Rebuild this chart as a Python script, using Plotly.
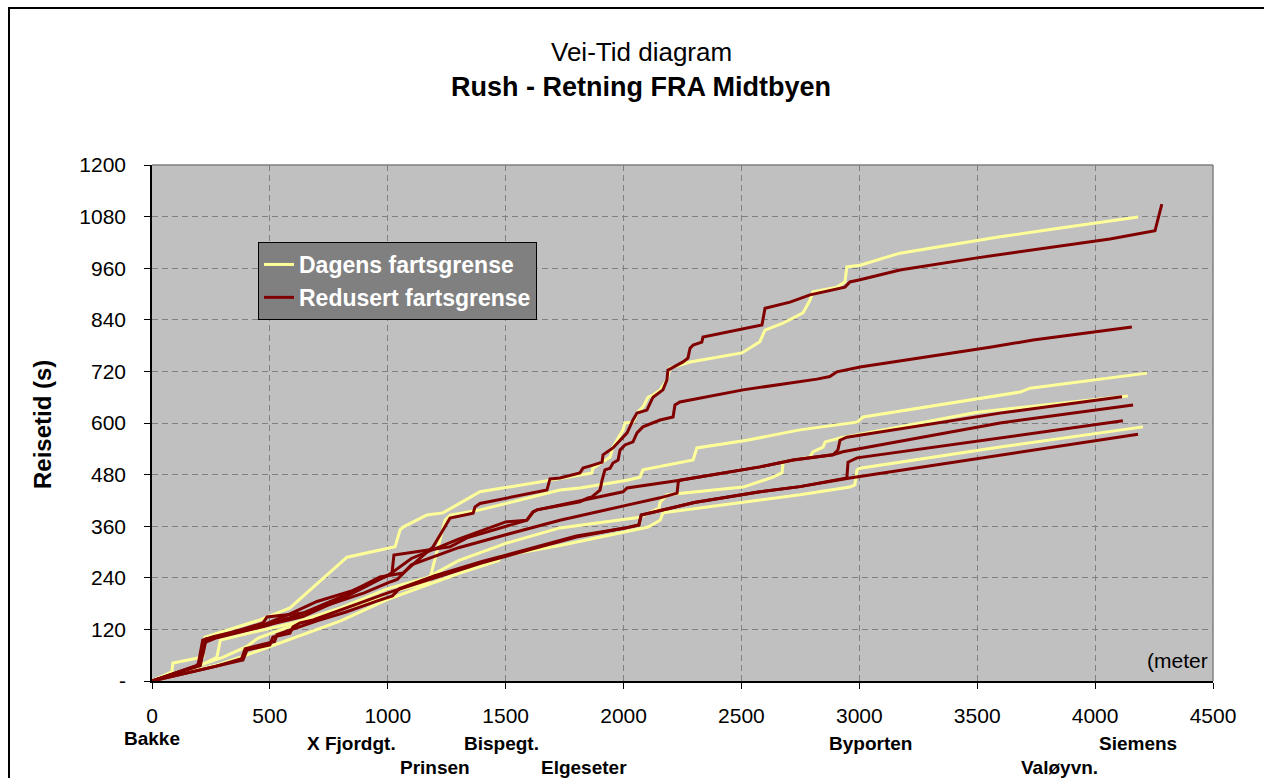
import plotly.graph_objects as go

# ---------------- data (distance in metres, travel time in seconds) ----------------
# Dagens fartsgrense (current speed limit) trips
d1_x = [0, 84, 89, 216, 225, 276, 458, 585, 827, 1031, 1052, 1065, 1166, 1234, 1370, 1391, 1688, 1815, 1866, 1870,
        1943, 1955, 1998, 2006, 2040, 2061, 2082, 2104, 2125, 2155, 2184, 2197, 2282, 2502, 2523, 2578, 2600, 2676,
        2761, 2791, 2803, 2905, 2939, 2947, 3003, 3172, 3384, 3597, 3809, 4182]
d1_y = [0, 21, 42, 56, 102, 111, 142, 170, 288, 312, 351, 358, 386, 391, 433, 440, 467, 479, 484, 495,
        521, 544, 584, 600, 602, 626, 637, 660, 665, 677, 700, 728, 742, 763, 770, 789, 816, 832,
        856, 886, 905, 916, 928, 963, 967, 995, 1014, 1033, 1050, 1079]

d2_x = [0, 250, 300, 400, 450, 600, 750, 925, 997, 1166, 1179, 1188, 1209, 1243, 1264, 1391, 1730, 1815, 2015, 2070,
        2082, 2295, 2311, 2523, 2748, 2990, 3016, 3682, 3724, 4220]
d2_y = [0, 45, 55, 80, 100, 130, 160, 184, 205, 228, 235, 258, 305, 374, 386, 398, 444, 449, 467, 474,
        491, 514, 542, 560, 584, 602, 614, 672, 681, 716]

d3_x = [0, 220, 275, 290, 400, 600, 800, 1000, 1166, 1300, 1500, 1730, 2069, 2150, 2155, 2184, 2507, 2634, 2672, 2677,
        2791, 2803, 2846, 2855, 2918, 3500, 4139]
d3_y = [0, 40, 55, 95, 110, 135, 170, 215, 240, 280, 320, 356, 381, 402, 416, 433, 451, 474, 484, 509,
        521, 533, 544, 556, 565, 625, 663]

d4_x = [0, 280, 400, 600, 800, 1000, 1300, 1470, 1480, 1730, 2000, 2104, 2155, 2167, 2579, 2748, 2960, 2981, 2990, 3003,
        3597, 4203]
d4_y = [0, 38, 60, 100, 140, 190, 250, 280, 290, 315, 345, 358, 374, 391, 421, 433, 451, 456, 491, 495,
        544, 591]

# Redusert fartsgrense (reduced speed limit) trips
r1_x = [0, 190, 215, 230, 275, 471, 488, 640, 800, 967, 1065, 1192, 1230, 1264, 1362, 1370, 1391, 1675, 1688, 1730,
        1815, 1828, 1870, 1909, 1913, 1955, 2015, 2040, 2057, 2099, 2125, 2167, 2184, 2188, 2252, 2273, 2282, 2295,
        2332, 2337, 2587, 2600, 2706, 2791, 2939, 2960, 3003, 3172, 3499, 4063, 4254, 4283]
r1_y = [0, 35, 60, 98, 102, 135, 149, 158, 195, 242, 251, 312, 347, 379, 390, 405, 413, 444, 470, 472,
        484, 495, 502, 509, 526, 542, 577, 607, 623, 630, 660, 677, 700, 723, 742, 751, 774, 781,
        788, 800, 828, 867, 881, 898, 916, 928, 933, 956, 984, 1028, 1047, 1109]

r2_x = [0, 200, 225, 260, 470, 640, 800, 950, 1018, 1026, 1264, 1336, 1590, 1616, 1633, 1815, 1849, 1866, 1900, 1909,
        1921, 1943, 1955, 1977, 1985, 2006, 2040, 2057, 2082, 2155, 2210, 2218, 2239, 2507, 2748, 2820, 2875, 2905,
        3003, 3172, 3257, 3384, 3499, 3554, 3737, 4156]
r2_y = [0, 38, 92, 100, 128, 150, 190, 232, 251, 293, 312, 333, 374, 393, 398, 417, 426, 428, 444, 467,
        491, 495, 507, 514, 537, 549, 556, 577, 591, 607, 614, 642, 649, 677, 696, 702, 708, 719,
        730, 744, 752, 763, 771, 776, 793, 823]

r3_x = [0, 195, 215, 260, 480, 560, 700, 850, 1000, 1100, 1300, 1500, 1590, 1616, 1633, 1730, 1998, 2015, 2239, 2579,
        2719, 2888, 2909, 2918, 2947, 3597, 4114]
r3_y = [0, 36, 95, 103, 132, 150, 185, 210, 245, 285, 330, 370, 374, 393, 398, 409, 440, 449, 467, 498,
        514, 526, 537, 560, 567, 623, 661]

r4_x = [0, 205, 225, 270, 480, 600, 700, 900, 1000, 1040, 1100, 1300, 1500, 1730, 2015, 2155, 2227, 2232, 2239, 2579,
        2719, 2888, 2930, 3597, 4161]
r4_y = [0, 36, 90, 100, 128, 150, 170, 205, 228, 236, 270, 310, 340, 374, 409, 426, 437, 463, 467, 498,
        514, 526, 533, 600, 642]

r5_x = [0, 267, 386, 403, 500, 513, 585, 598, 628, 683, 800, 900, 1000, 1200, 1400, 1600, 1800, 2000, 2065, 2075,
        2300, 2579, 2748, 2947, 2952, 2990, 3597, 4118]
r5_y = [0, 33, 49, 72, 84, 102, 111, 126, 135, 142, 165, 185, 205, 240, 275, 305, 335, 355, 363, 386,
        415, 440, 452, 472, 509, 519, 565, 605]

r6_x = [0, 270, 380, 395, 520, 530, 700, 820, 950, 1020, 1050, 1200, 1400, 1600, 1800, 2000, 2065, 2075, 2300, 2579,
        2748, 2960, 3597, 4182]
r6_y = [0, 34, 52, 75, 92, 108, 140, 160, 185, 198, 215, 245, 278, 308, 337, 355, 363, 386, 415, 440,
        452, 472, 526, 574]

series_names = ["Dagens fartsgrense", "Redusert fartsgrense"]
dagens_trips = [(d1_x, d1_y), (d2_x, d2_y), (d3_x, d3_y), (d4_x, d4_y)]
redusert_trips = [(r1_x, r1_y), (r2_x, r2_y), (r3_x, r3_y), (r4_x, r4_y), (r5_x, r5_y), (r6_x, r6_y)]

x_ticks = [0, 500, 1000, 1500, 2000, 2500, 3000, 3500, 4000, 4500]
y_ticks = [0, 120, 240, 360, 480, 600, 720, 840, 960, 1080, 1200]
y_ticktext = ["-", "120", "240", "360", "480", "600", "720", "840", "960", "1080", "1200"]

station_names = ["Bakke", "X Fjordgt.", "Prinsen", "Bispegt.", "Elgeseter", "Byporten", "Valøyvn.", "Siemens"]
station_pos = [0, 844, 1200, 1484, 1832, 3049, 3847, 4182]
station_row = [0, 1, 2, 1, 2, 1, 2, 1]

# ---------------- figure ----------------
YELLOW = "#FFFF99"
RED = "#800000"
FONT = "Liberation Sans, Arial, sans-serif"

fig = go.Figure()
for name, color, trips in [(series_names[0], YELLOW, dagens_trips), (series_names[1], RED, redusert_trips)]:
    for i, (xs, ys) in enumerate(trips):
        fig.add_trace(go.Scatter(
            x=xs, y=ys, mode="lines",
            line=dict(color=color, width=3),
            name="<b>" + name + "</b>", legendgroup=name, showlegend=(i == 0),
            hoverinfo="skip"))

W, H = 1264, 778
L, R, T, B = 152, 51, 165, 97
pw, ph = W - L - R, H - T - B


def px_x(p):
    return (p - L) / pw


def px_y(p):
    return (H - B - p) / ph


axis_common = dict(
    showgrid=True, gridcolor="#808080", griddash="6px,4px", gridwidth=1,
    showline=True, linecolor="black", linewidth=1.5,
    ticks="outside", ticklen=6, tickcolor="black", tickwidth=1,
    tickfont=dict(family=FONT, size=21, color="black"),
    zeroline=False, fixedrange=True,
)

fig.update_layout(
    width=W, height=H,
    margin=dict(l=L, r=R, t=T, b=B, pad=0),
    paper_bgcolor="white", plot_bgcolor="#C0C0C0",
    font=dict(family=FONT, color="black"),
    xaxis=dict(range=[0, 4500], tickvals=x_ticks, ticklabelstandoff=9, **axis_common),
    yaxis=dict(range=[0, 1200], tickvals=y_ticks, ticktext=y_ticktext, ticklabelstandoff=14, **axis_common),
    legend=dict(
        x=px_x(258), y=px_y(242), xanchor="left", yanchor="top",
        bgcolor="#808080", bordercolor="black", borderwidth=1,
        font=dict(family=FONT, size=23, color="white"),
        traceorder="grouped", tracegroupgap=0,
        entrywidth=268, itemwidth=30,
    ),
    showlegend=True,
)

annotations = [
    dict(text="Vei-Tid diagram", x=px_x(641), y=px_y(52), xref="paper", yref="paper",
         showarrow=False, font=dict(family=FONT, size=26, color="black"), xanchor="center", yanchor="middle"),
    dict(text="<b>Rush - Retning FRA Midtbyen</b>", x=px_x(641), y=px_y(87), xref="paper", yref="paper",
         showarrow=False, font=dict(family=FONT, size=27, color="black"), xanchor="center", yanchor="middle"),
    dict(text="<b>Reisetid (s)</b>", x=px_x(42), y=px_y(425), xref="paper", yref="paper", textangle=-90,
         showarrow=False, font=dict(family=FONT, size=24, color="black"), xanchor="center", yanchor="middle"),
    dict(text="(meter", x=px_x(1210), y=px_y(660), xref="paper", yref="paper",
         showarrow=False, font=dict(family=FONT, size=21, color="black"), xanchor="right", yanchor="middle"),
]
row_py = {0: 738, 1: 743, 2: 767}
for nm, pos, row in zip(station_names, station_pos, station_row):
    annotations.append(dict(text="<b>" + nm + "</b>", x=pos, y=px_y(row_py[row]), xref="x", yref="paper",
                            showarrow=False, font=dict(family=FONT, size=19, color="black"),
                            xanchor="center", yanchor="middle"))
fig.update_layout(annotations=annotations)

shapes = [
    # plot-area frame (top and right edges)
    dict(type="line", xref="paper", yref="paper", x0=0, x1=1, y0=1, y1=1, line=dict(color="#808080", width=1.5)),
    dict(type="line", xref="paper", yref="paper", x0=1, x1=1, y0=0, y1=1, line=dict(color="#808080", width=1.5)),
    # chart border
    dict(type="rect", xref="paper", yref="paper", x0=px_x(9), x1=px_x(1275), y0=px_y(790), y1=px_y(8),
         line=dict(color="black", width=2), fillcolor="rgba(0,0,0,0)"),
]
fig.update_layout(shapes=shapes)

fig.write_html("out.html")
